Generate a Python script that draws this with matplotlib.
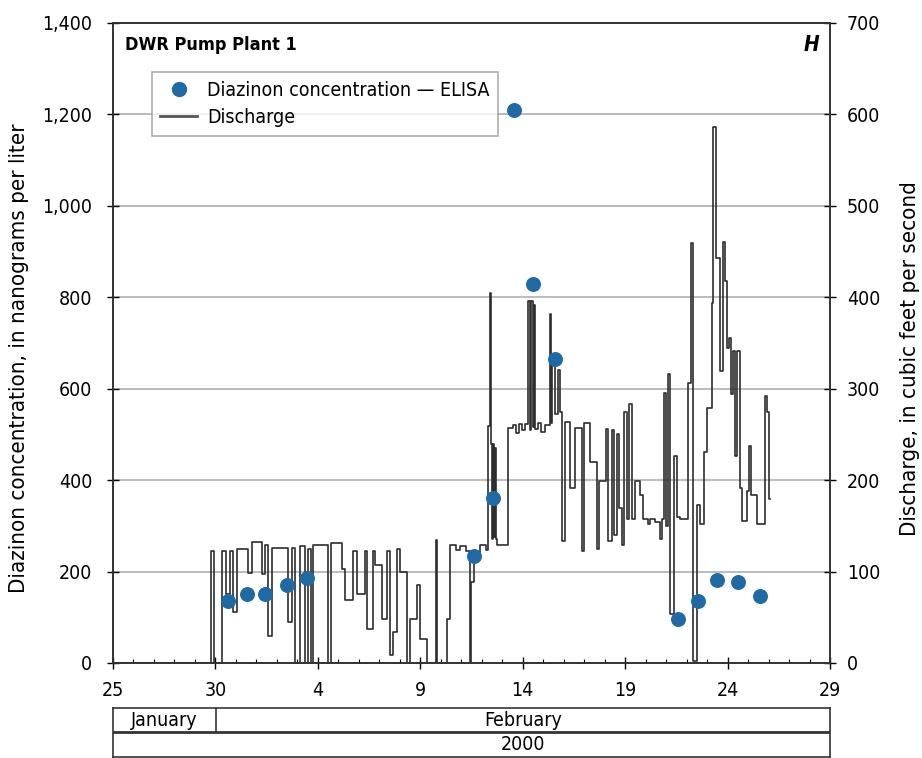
import numpy as np
import matplotlib.pyplot as plt
from matplotlib.ticker import MultipleLocator, FuncFormatter
from matplotlib.lines import Line2D

plt.rcParams['font.family'] = ['DejaVu Sans']
plt.rcParams['font.stretch'] = 'condensed'

# Diazinon concentration (ELISA), ng/L, by day of year 2000
conc_day = [30.61, 31.54, 32.42, 33.49, 34.47, 42.62, 43.55, 44.57, 45.50, 46.57,
            52.57, 53.55, 54.48, 55.50, 56.57]
conc_val = [135, 150, 150, 170, 185, 235, 362, 1210, 830, 665,
            97, 135, 182, 178, 147]

# Discharge, cfs (step record), by day of year 2000
q_day = [25.00, 29.73, 29.80, 29.93, 30.32, 30.51, 30.71, 30.86, 31.05, 31.59,
         31.78, 32.27, 32.42, 32.56, 32.76, 33.54, 33.74, 33.88, 34.13, 34.37,
         34.52, 34.66, 34.76, 35.49, 35.64, 36.18, 36.32, 36.71, 36.91, 37.30,
         37.40, 37.69, 37.79, 38.13, 38.37, 38.52, 38.67, 38.86, 39.01, 39.35,
         39.49, 39.84, 39.98, 40.32, 40.76, 40.83, 41.30, 41.45, 41.74, 41.94,
         42.23, 42.42, 42.50, 42.62, 42.91, 43.20, 43.30, 43.40, 43.45, 43.50,
         43.55, 43.59, 43.64, 43.69, 43.74, 44.28, 44.52, 44.67, 44.81, 44.96,
         45.11, 45.25, 45.35, 45.40, 45.50, 45.55, 45.59, 45.74, 45.89, 46.08,
         46.33, 46.38, 46.43, 46.57, 46.72, 46.82, 46.91, 47.06, 47.30, 47.55,
         47.89, 47.99, 48.28, 48.62, 48.72, 49.06, 49.16, 49.35, 49.45, 49.60,
         49.70, 49.85, 49.94, 50.09, 50.19, 50.33, 50.48, 50.72, 50.87, 51.11,
         51.21, 51.45, 51.70, 51.79, 51.89, 51.99, 52.09, 52.18, 52.38, 52.53,
         52.67, 53.06, 53.21, 53.31, 53.50, 53.65, 53.84, 53.99, 54.23, 54.28,
         54.43, 54.62, 54.77, 54.87, 54.96, 55.06, 55.16, 55.25, 55.35, 55.45,
         55.60, 55.70, 55.94, 56.04, 56.14, 56.43, 56.82, 56.92, 57.02, 57.06]
q_val = [0, 0, 122, 0, 123, 76, 122, 56, 125, 98,
         132, 97, 129, 29, 126, 45, 126, 0, 128, 0,
         125, 0, 129, 0, 131, 103, 69, 122, 76, 122,
         37, 122, 107, 48, 122, 9, 34, 125, 100, 0,
         48, 85, 26, 0, 135, 0, 48, 129, 124, 128,
         122, 0, 89, 120, 129, 124, 259, 405, 239, 136,
         240, 138, 235, 136, 129, 257, 260, 252, 261, 255,
         261, 396, 255, 396, 258, 392, 256, 262, 253, 260,
         382, 262, 330, 272, 320, 275, 133, 264, 191, 257,
         122, 262, 220, 125, 199, 256, 133, 255, 140, 250,
         169, 129, 275, 158, 283, 158, 199, 184, 157, 152,
         158, 154, 136, 157, 295, 150, 316, 54, 226, 160,
         157, 306, 459, 2, 173, 152, 231, 279, 394, 586,
         443, 319, 460, 418, 345, 356, 294, 341, 226, 341,
         191, 155, 188, 237, 184, 152, 292, 275, 179, 179]

tick_days = [25, 30, 35, 40, 45, 50, 55, 60]
tick_labels = ['25', '30', '4', '9', '14', '19', '24', '29']

fig = plt.figure(figsize=(9.22, 7.58), dpi=100)
ax = fig.add_axes([113/922, 95/758, 717/922, 640/758])
ax2 = ax.twinx()

ax2.plot(q_day, q_val, drawstyle='steps-post', color='#2e2e2e', lw=1.2, zorder=2)
ax2.set_ylim(0, 700)
ax2.yaxis.set_major_locator(MultipleLocator(100))
ax2.grid(axis='y', color='#b0b0b0', lw=1.2)
ax2.set_ylabel('Discharge, in cubic feet per second', fontsize=16)
ax2.yaxis.set_label_coords(1.097, 0.475)

ax.set_zorder(ax2.get_zorder() + 1)
ax.patch.set_visible(False)
ax.scatter(conc_day, conc_val, s=95, color='#1f6aa5', zorder=3, clip_on=False)
ax.set_xlim(25, 60)
ax.set_ylim(0, 1400)
ax.yaxis.set_major_locator(MultipleLocator(200))
ax.yaxis.set_major_formatter(FuncFormatter(lambda v, p: f'{int(v):,}'))
ax.set_ylabel('Diazinon concentration, in nanograms per liter', fontsize=16)
ax.yaxis.set_label_coords(-0.117, 0.477)
ax.set_xticks(tick_days)
ax.set_xticklabels(tick_labels)
ax.xaxis.set_minor_locator(MultipleLocator(1))

ax.tick_params(axis='x', which='major', direction='inout', length=8, width=1, labelsize=14, pad=9)
ax.tick_params(axis='x', which='minor', direction='in', length=3, width=0.8)
ax.tick_params(axis='y', direction='inout', length=8, width=1, labelsize=14, pad=11)
ax2.tick_params(axis='y', direction='inout', length=8, width=1, labelsize=14, pad=8)
for a in (ax, ax2):
    for s in a.spines.values():
        s.set_linewidth(1.2)
        s.set_color('#333333')

ax.text(0.017, 0.965, 'DWR Pump Plant 1', transform=ax.transAxes, fontsize=13,
        fontweight='bold', va='center', ha='left')
ax.text(0.985, 0.965, 'H', transform=ax.transAxes, fontsize=15,
        fontweight='bold', fontstyle='italic', va='center', ha='right')

handles = [Line2D([], [], marker='o', ls='none', color='#1f6aa5', markersize=10),
           Line2D([], [], color='#555555', lw=2)]
leg = ax.legend(handles, ['Diazinon concentration \u2014 ELISA', 'Discharge'],
                loc='upper left', bbox_to_anchor=(0.054, 0.923), fontsize=14,
                frameon=True, fancybox=False, edgecolor='#999999',
                borderpad=0.45, labelspacing=0.4, handlelength=1.9,
                handletextpad=0.5, borderaxespad=0)
leg.get_frame().set_linewidth(1.2)

# month / year band under the time axis
band = fig.add_axes([113/922, 1/758, 717/922, 49/758])
band.set_xlim(25, 60)
band.set_ylim(0, 2)
band.set_xticks([])
band.set_yticks([])
for s in band.spines.values():
    s.set_linewidth(1.2)
    s.set_color('#333333')
band.axhline(1.03, color='#333333', lw=2)
band.plot([30.05, 30.05], [1.03, 2], color='#333333', lw=1.2)
band.text(27.5, 1.5, 'January', ha='center', va='center', fontsize=14)
band.text(45.0, 1.5, 'February', ha='center', va='center', fontsize=14)
band.text(45.0, 0.5, '2000', ha='center', va='center', fontsize=14)

fig.savefig('out.png', dpi=100)
